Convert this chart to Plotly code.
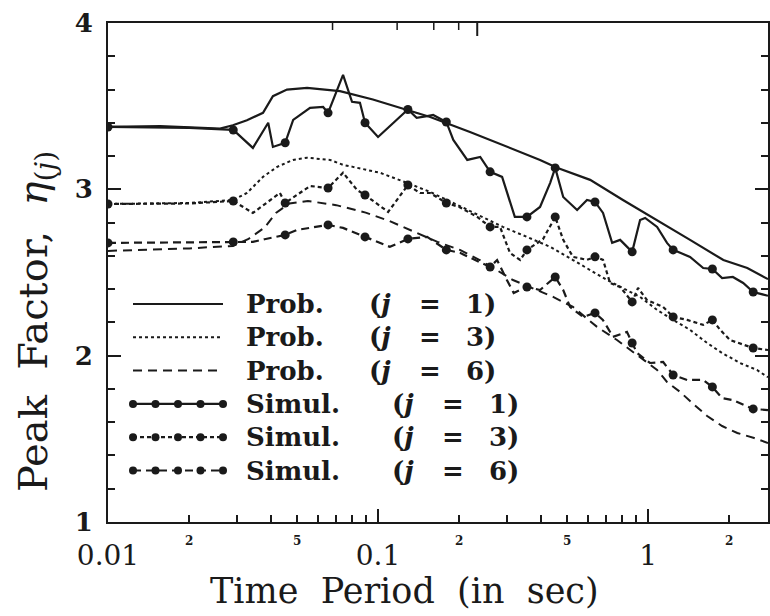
import math
import plotly.graph_objects as go

# ---------------- data ----------------
prob1_T = [0.01, 0.0156, 0.026, 0.029, 0.0327, 0.0344, 0.0375, 0.0408, 0.046, 0.0546, 0.0723, 0.0957,
           0.128, 0.156, 0.219, 0.29, 0.398, 0.46, 0.61, 0.807, 1.08, 1.43, 1.90, 2.33, 2.78]
prob1_eta = [3.375, 3.38, 3.365, 3.385, 3.415, 3.43, 3.46, 3.56, 3.60, 3.61, 3.59, 3.54,
             3.48, 3.435, 3.345, 3.267, 3.177, 3.13, 3.057, 2.936, 2.816, 2.696, 2.575, 2.527, 2.46]

prob3_T = [0.01, 0.02, 0.0291, 0.0327, 0.0375, 0.0423, 0.0484, 0.0546, 0.0664, 0.0742, 0.0807, 0.102,
           0.128, 0.156, 0.19, 0.254, 0.29, 0.356, 0.434, 0.527, 0.705, 0.934, 1.08, 1.238, 1.43,
           1.655, 1.88, 2.19, 2.53, 2.78]
prob3_eta = [2.912, 2.918, 2.936, 2.978, 3.075, 3.135, 3.177, 3.19, 3.177, 3.147, 3.135, 3.099,
             3.039, 2.984, 2.918, 2.816, 2.774, 2.714, 2.654, 2.575, 2.455, 2.353, 2.275, 2.215, 2.155,
             2.076, 2.016, 1.956, 1.914, 1.87]

prob6_T = [0.01, 0.02, 0.029, 0.033, 0.038, 0.042, 0.047, 0.055, 0.07, 0.09, 0.11, 0.137, 0.166,
           0.201, 0.238, 0.267, 0.316, 0.364, 0.445, 0.527, 0.647, 0.767, 0.933, 1.08, 1.175, 1.314,
           1.47, 1.655, 1.88, 2.14, 2.47, 2.78]
prob6_eta = [2.63, 2.645, 2.66, 2.70, 2.77, 2.86, 2.915, 2.93, 2.905, 2.86, 2.81, 2.745, 2.684,
             2.636, 2.575, 2.527, 2.455, 2.413, 2.353, 2.293, 2.173, 2.094, 1.992, 1.914, 1.842, 1.782,
             1.71, 1.637, 1.577, 1.535, 1.505, 1.475]

sim1_T = [0.01, 0.02, 0.0291, 0.0344, 0.0392, 0.0408, 0.0453, 0.0485, 0.056, 0.0626, 0.0653, 0.0742,
          0.0801, 0.0857, 0.0895, 0.1, 0.129, 0.139, 0.152, 0.16, 0.179, 0.19, 0.214, 0.239, 0.26,
          0.288, 0.321, 0.356, 0.398, 0.434, 0.453, 0.485, 0.546, 0.594, 0.636, 0.681, 0.736, 0.788,
          0.873, 0.934, 0.975, 1.08, 1.175, 1.238, 1.43, 1.60, 1.73, 1.88, 2.06, 2.25, 2.45, 2.78]
sim1_eta = [3.375, 3.37, 3.357, 3.249, 3.40, 3.255, 3.28, 3.417, 3.49, 3.495, 3.46, 3.688,
            3.526, 3.52, 3.40, 3.315, 3.48, 3.43, 3.44, 3.447, 3.405, 3.297, 3.177, 3.195, 3.105,
            3.075, 2.834, 2.834, 2.894, 3.039, 3.129, 2.954, 2.876, 2.936, 2.924, 2.858, 2.678, 2.696,
            2.624, 2.816, 2.828, 2.774, 2.678, 2.636, 2.594, 2.527, 2.521, 2.467, 2.473, 2.437, 2.383, 2.36]

sim3_T = [0.01, 0.02, 0.0291, 0.0344, 0.0433, 0.0453, 0.056, 0.0653, 0.0742, 0.0836, 0.0895, 0.109,
          0.129, 0.143, 0.156, 0.179, 0.20, 0.233, 0.26, 0.283, 0.308, 0.336, 0.356, 0.408, 0.453,
          0.485, 0.527, 0.594, 0.636, 0.681, 0.723, 0.788, 0.873, 0.918, 0.99, 1.137, 1.238, 1.395,
          1.60, 1.73, 1.85, 2.01, 2.45, 2.78]
sim3_eta = [2.912, 2.915, 2.93, 2.858, 2.978, 2.918, 3.02, 3.008, 3.10, 2.996, 2.966, 2.864,
            3.026, 2.978, 2.978, 2.918, 2.894, 2.834, 2.774, 2.774, 2.618, 2.575, 2.636, 2.70, 2.834,
            2.696, 2.594, 2.576, 2.594, 2.576, 2.437, 2.413, 2.323, 2.407, 2.335, 2.293, 2.233, 2.215,
            2.185, 2.215, 2.155, 2.094, 2.046, 2.034]

sim6_T = [0.01, 0.02, 0.0291, 0.0344, 0.038, 0.0453, 0.0501, 0.0653, 0.0742, 0.0895, 0.1106, 0.129,
          0.152, 0.179, 0.201, 0.26, 0.276, 0.30, 0.318, 0.356, 0.398, 0.453, 0.485, 0.514, 0.574,
          0.636, 0.68, 0.705, 0.741, 0.835, 0.873, 0.91, 1.016, 1.137, 1.238, 1.395, 1.60, 1.73,
          1.88, 2.06, 2.45, 2.78]
sim6_eta = [2.678, 2.68, 2.684, 2.684, 2.70, 2.726, 2.756, 2.786, 2.768, 2.714, 2.654, 2.702,
            2.714, 2.636, 2.618, 2.533, 2.575, 2.455, 2.377, 2.413, 2.395, 2.473, 2.395, 2.293, 2.233,
            2.257, 2.215, 2.173, 2.113, 2.143, 2.076, 2.016, 1.956, 1.962, 1.884, 1.854, 1.854, 1.812,
            1.745, 1.733, 1.68, 1.673]

# periods at which the simulation results are marked with dots
sim_dot_T = [0.01, 0.0291, 0.0453, 0.0653, 0.0895, 0.129, 0.179, 0.26, 0.356, 0.453, 0.636,
             0.873, 1.238, 1.73, 2.45]

legend_words = ["Prob.", "Prob.", "Prob.", "Simul.", "Simul.", "Simul."]
legend_j = [1, 3, 6, 1, 3, 6]

x_major_vals = [0.01, 0.1, 1]
x_major_text = ["0.01", "0.1", "1"]
x_small_vals = [0.02, 0.05, 0.2, 0.5, 2]
x_small_text = ["2", "5", "2", "5", "2"]
y_tick_vals = [1, 2, 3, 4]

# ---------------- styling ----------------
INK = "#1a1a1a"
SERIF = "DejaVu Serif"
W, H = 770, 616
ML, MR, MT, MB = 108, 2, 23, 94
PW, PH = W - ML - MR, H - MT - MB
X_LOG_RANGE = [-2, math.log10(2.78)]


def px_x(p):  # pixel -> paper
    return (p - ML) / PW


def px_y(p):
    return (H - MB - p) / PH


styles = [
    dict(dash="solid", width=2.2),
    dict(dash="3px,3px", width=2.0),
    dict(dash="9px,6px", width=2.0),
    dict(dash="solid", width=2.2),
    dict(dash="4px,3px", width=2.2),
    dict(dash="8px,5px", width=2.2),
]

series = [
    (prob1_T, prob1_eta, False),
    (prob3_T, prob3_eta, False),
    (prob6_T, prob6_eta, False),
    (sim1_T, sim1_eta, True),
    (sim3_T, sim3_eta, True),
    (sim6_T, sim6_eta, True),
]

fig = go.Figure()
for (T, eta, is_sim), st, w, j in zip(series, styles, legend_words, legend_j):
    if is_sim:
        sizes = [9 if any(abs(t - d) / d < 1e-6 for d in sim_dot_T) else 0 for t in T]
        fig.add_trace(go.Scatter(x=T, y=eta, mode="lines+markers", name=f"{w} (j = {j})",
                                 line=dict(color=INK, width=st["width"], dash=st["dash"]),
                                 marker=dict(color=INK, size=sizes, opacity=1, line=dict(width=0)),
                                 showlegend=False))
    else:
        fig.add_trace(go.Scatter(x=T, y=eta, mode="lines", name=f"{w} (j = {j})",
                                 line=dict(color=INK, width=st["width"], dash=st["dash"]),
                                 showlegend=False))

minor_bottom = [m * 10.0 ** e for e in (-2, -1, 0) for m in range(2, 10) if m * 10.0 ** e < 2.8]

fig.update_layout(
    template="none",
    width=W, height=H, autosize=False,
    margin=dict(l=ML, r=MR, t=MT, b=MB, pad=0, autoexpand=False),
    paper_bgcolor="white", plot_bgcolor="white",
    showlegend=False,
    font=dict(family=SERIF, color=INK),
    xaxis=dict(
        type="log", range=X_LOG_RANGE, automargin=False,
        tickvals=x_major_vals, ticktext=x_major_text,
        ticks="inside", ticklen=13, tickwidth=2, tickcolor=INK,
        minor=dict(tickvals=minor_bottom, ticks="inside", ticklen=7, tickwidth=1.5, tickcolor=INK,
                   showgrid=False),
        showline=True, linewidth=2, linecolor=INK, mirror=True,
        showgrid=False, zeroline=False,
        tickfont=dict(family=SERIF, size=28, color=INK),
        ticklabelstandoff=7,
    ),
    yaxis=dict(
        range=[1, 4], automargin=False,
        tickvals=y_tick_vals, ticktext=[str(v) for v in y_tick_vals],
        ticks="inside", ticklen=13, tickwidth=2, tickcolor=INK,
        minor=dict(dtick=0.2, tick0=1, ticks="inside", ticklen=7, tickwidth=1.5, tickcolor=INK,
                   showgrid=False),
        showline=True, linewidth=2, linecolor=INK, mirror="ticks",
        showgrid=False, zeroline=False,
        tickfont=dict(family=SERIF, size=26, color=INK, weight="bold"),
        ticklabelstandoff=8,
    ),
)

annotations = []
shapes = []

# top frame ticks: in the original the top edge carries its own log scale
# (about 201 px per decade, starting one decade step at the left frame edge)
TOP_PX_PER_DECADE = 201.0
for e in range(0, 4):
    for m in range(1, 10):
        if e == 0 and m == 1:
            continue
        pos_px = ML + TOP_PX_PER_DECADE * (e + math.log10(m))
        if pos_px > W - MR - 2:
            continue
        xl = X_LOG_RANGE[0] + (pos_px - ML) / PW * (X_LOG_RANGE[1] - X_LOG_RANGE[0])
        tlen = 13 if m == 1 else 7
        shapes.append(dict(type="line", xref="x", yref="paper", x0=xl, x1=xl,
                           y0=1, y1=1 - tlen / PH,
                           line=dict(color=INK, width=2 if m == 1 else 1.5)))

# small "2" / "5" labels under the bottom axis
for v, t in zip(x_small_vals, x_small_text):
    annotations.append(dict(x=math.log10(v), xref="x", y=px_y(541), yref="paper", text=t,
                            showarrow=False, xanchor="center", yanchor="middle",
                            font=dict(family=SERIF, size=12, color=INK, weight="bold")))

# axis titles
annotations.append(dict(x=px_x(404), y=px_y(591), xref="paper", yref="paper",
                        text="Time\u00a0 Period\u00a0 (in\u00a0 sec)", showarrow=False,
                        xanchor="center", yanchor="middle",
                        font=dict(family=SERIF, size=35, color=INK)))
annotations.append(dict(x=px_x(36), y=px_y(322), xref="paper", yref="paper",
                        text="Peak\u00a0 Factor,\u00a0 <i>η</i><sub>(<i>j</i>)</sub>", showarrow=False,
                        textangle=-90, xanchor="center", yanchor="middle",
                        font=dict(family=SERIF, size=40, color=INK)))

# hand-drawn style legend inside the plot
row0, row_step = 304, 33.3
sample_x0, sample_x1 = 133, 223
lfont = dict(family=SERIF, size=26, color=INK, weight="bold")
for i, (word, j, st, (_, _, is_sim)) in enumerate(zip(legend_words, legend_j, styles, series)):
    ry = px_y(row0 + i * row_step)
    shapes.append(dict(type="line", xref="paper", yref="paper",
                       x0=px_x(sample_x0), x1=px_x(sample_x1), y0=ry, y1=ry,
                       line=dict(color=INK, width=st["width"], dash=st["dash"])))
    if is_sim:
        for k in range(5):
            cx = px_x(sample_x0 + k * (sample_x1 - sample_x0) / 4)
            shapes.append(dict(type="circle", xref="paper", yref="paper",
                               xsizemode="pixel", ysizemode="pixel",
                               xanchor=cx, yanchor=ry, x0=-4, x1=4, y0=-4, y1=4,
                               fillcolor=INK, line=dict(width=0)))
    shift = 23 if is_sim else 0
    annotations.append(dict(x=px_x(244), y=ry, xref="paper", yref="paper", text=word,
                            showarrow=False, xanchor="left", yanchor="middle", font=lfont))
    annotations.append(dict(x=px_x(367 + shift), y=ry, xref="paper", yref="paper",
                            text="(<i>j</i>", showarrow=False, xanchor="left", yanchor="middle",
                            font=lfont))
    annotations.append(dict(x=px_x(430 + shift), y=ry, xref="paper", yref="paper",
                            text="=", showarrow=False, xanchor="center", yanchor="middle",
                            font=lfont))
    annotations.append(dict(x=px_x(464 + shift), y=ry, xref="paper", yref="paper",
                            text=f"{j})", showarrow=False, xanchor="left", yanchor="middle",
                            font=lfont))

fig.update_layout(annotations=annotations, shapes=shapes)

fig.write_html("out.html", config={"displayModeBar": False},
               post_script="document.body.style.margin='0px';document.body.style.overflow='hidden';")
